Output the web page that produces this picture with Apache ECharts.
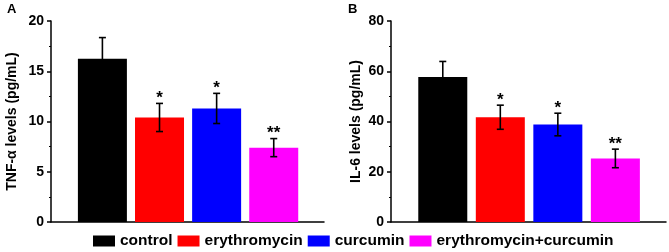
<!DOCTYPE html>
<html>
<head>
<meta charset="utf-8">
<script src="https://cdn.jsdelivr.net/npm/echarts@6/dist/echarts.min.js"></script>
<style>
  html, body { margin: 0; padding: 0; background: #fff; }
  #chart { width: 669px; height: 252px; }
</style>
</head>
<body>
<div id="chart"></div>
<script>
// groups and colours
const groups = ['control', 'erythromycin', 'curcumin', 'erythromycin+curcumin'];
const colors = ['#000000', '#ff0000', '#0000ff', '#ff00ff'];
const xPos = [1, 2, 3, 4];

// panel A: TNF-alpha (pg/mL)
const tnfMean = [16.25, 10.4, 11.3, 7.4];
const tnfErr = [2.1, 1.4, 1.5, 0.9];
// panel B: IL-6 (pg/mL)
const il6Mean = [57.7, 41.7, 38.8, 25.3];
const il6Err = [6.2, 4.8, 4.5, 3.7];
const sigMarks = ['', '*', '*', '**'];

const tnfTicks = [0, 5, 10, 15, 20];
const il6Ticks = [0, 20, 40, 60, 80];

const FONT = 'Liberation Sans, Arial, sans-serif';
const chart = echarts.init(document.getElementById('chart'), null, {renderer: 'canvas'});

function xAxisOpt(idx) {
  return {
    type: 'value', gridIndex: idx, min: 0.1, max: 4.88,
    axisLine: {show: true, lineStyle: {color: '#000', width: 1.5}},
    axisTick: {show: false}, axisLabel: {show: false}, splitLine: {show: false}
  };
}
function yAxisOpt(idx, ticks, name, gap) {
  return {
    type: 'value', gridIndex: idx,
    min: ticks[0], max: ticks[ticks.length - 1], interval: ticks[1] - ticks[0],
    name: name, nameLocation: 'middle', nameGap: gap,
    nameTextStyle: {fontFamily: FONT, fontWeight: 'bold', fontSize: 14, color: '#000'},
    axisLine: {show: true, lineStyle: {color: '#000', width: 1.5}},
    axisTick: {show: true, inside: false, length: 4, lineStyle: {color: '#000', width: 1.5}},
    minorTick: {show: true, splitNumber: 2, length: 2, lineStyle: {color: '#000', width: 1}},
    axisLabel: {fontFamily: FONT, fontWeight: 'bold', fontSize: 14, color: '#000', margin: 7},
    splitLine: {show: false}
  };
}

function barSeries(idx, means) {
  return groups.map(function (g, i) {
    return {
      name: g, type: 'bar', xAxisIndex: idx, yAxisIndex: idx,
      barWidth: 49, barGap: '-100%',
      itemStyle: {color: colors[i]},
      data: [[xPos[i], means[i]]]
    };
  });
}

function errSeries(idx, means, errs) {
  return {
    type: 'custom', xAxisIndex: idx, yAxisIndex: idx, z: 5,
    data: xPos.map(function (x, i) { return [x, means[i], errs[i]]; }),
    renderItem: function (params, api) {
      const x = api.value(0), m = api.value(1), e = api.value(2);
      const top = api.coord([x, m + e]);
      const bot = api.coord([x, m - e]);
      const cw = 3.5;
      const st = {stroke: '#000', lineWidth: 1.6};
      const children = [
        {type: 'line', shape: {x1: top[0], y1: top[1], x2: bot[0], y2: bot[1]}, style: st},
        {type: 'line', shape: {x1: top[0] - cw, y1: top[1], x2: top[0] + cw, y2: top[1]}, style: st},
        {type: 'line', shape: {x1: bot[0] - cw, y1: bot[1], x2: bot[0] + cw, y2: bot[1]}, style: st}
      ];
      const mark = sigMarks[params.dataIndex];
      if (mark) {
        children.push({
          type: 'text',
          style: {
            x: top[0], y: top[1] - 5, text: mark,
            align: 'center', verticalAlign: 'middle',
            font: 'bold 17px ' + FONT, fill: '#000'
          }
        });
      }
      return {type: 'group', children: children};
    }
  };
}

const option = {
  animation: false,
  title: [
    {text: 'A', left: 7, top: 3, padding: 0, textStyle: {fontFamily: FONT, fontWeight: 'bold', fontSize: 13, color: '#000'}},
    {text: 'B', left: 348, top: 3, padding: 0, textStyle: {fontFamily: FONT, fontWeight: 'bold', fontSize: 13, color: '#000'}}
  ],
  legend: {
    data: groups, left: 93, top: 233, padding: 0, icon: 'rect',
    itemWidth: 22, itemHeight: 11, itemGap: 5,
    textStyle: {fontFamily: FONT, fontWeight: 'bold', fontSize: 15.5, color: '#000', padding: [0, 0, 0, 0]}
  },
  grid: [
    {left: 51, top: 21, width: 273, height: 201},
    {left: 391, top: 21, width: 275, height: 201}
  ],
  xAxis: [xAxisOpt(0), xAxisOpt(1)],
  yAxis: [
    yAxisOpt(0, tnfTicks, 'TNF-\u03b1 levels (pg/mL)', 32),
    yAxisOpt(1, il6Ticks, 'IL-6 levels (pg/mL)', 28)
  ],
  series: [].concat(
    barSeries(0, tnfMean),
    barSeries(1, il6Mean),
    [errSeries(0, tnfMean, tnfErr), errSeries(1, il6Mean, il6Err)]
  )
};
chart.setOption(option);
</script>
</body>
</html>
